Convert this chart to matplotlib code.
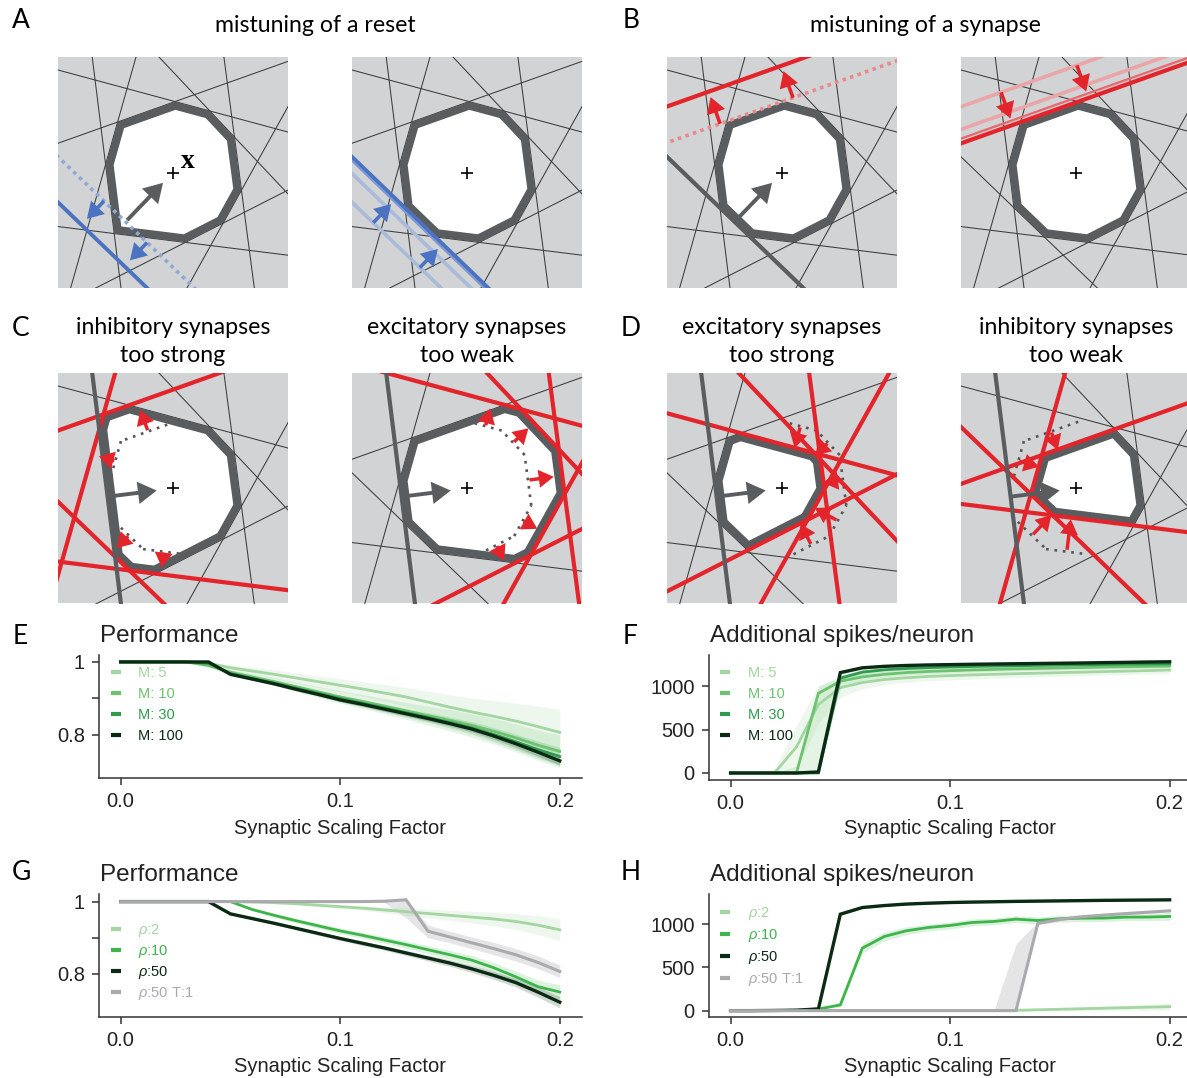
import numpy as np
import matplotlib
matplotlib.use("Agg")
import matplotlib.pyplot as plt
from matplotlib.patches import Rectangle, Polygon, FancyArrowPatch
from matplotlib.lines import Line2D

plt.rcParams['font.family'] = ['Liberation Sans', 'DejaVu Sans']
plt.rcParams['mathtext.fontset'] = 'custom'
plt.rcParams['mathtext.rm'] = 'Liberation Sans'
plt.rcParams['mathtext.it'] = 'Liberation Sans:italic'

W, H = 1187, 1078
fig = plt.figure(figsize=(W / 100, H / 100), dpi=100)

# ======================= data : line panels =======================
scaling = [0.0, 0.01, 0.02, 0.03, 0.04, 0.05, 0.06, 0.07, 0.08, 0.09, 0.1,
           0.11, 0.12, 0.13, 0.14, 0.15, 0.16, 0.17, 0.18, 0.19, 0.2]
xticks = [0.0, 0.1, 0.2]
xticklabels = ['0.0', '0.1', '0.2']
perf_ticks = [0.8, 0.9, 1.0]
perf_ticklabels = ['0.8', '', '1']
spk_ticks = [0, 500, 1000]
spk_ticklabels = ['0', '500', '1000']

# panel E : performance for different M
perf_M5 = [1, 1, 1, 1, 0.996, 0.984, 0.975, 0.966, 0.956, 0.946, 0.936, 0.926, 0.915, 0.904, 0.89, 0.876, 0.863, 0.851, 0.838, 0.823, 0.807]
perf_M10 = [1, 1, 1, 1, 0.99, 0.972, 0.959, 0.946, 0.932, 0.918, 0.904, 0.892, 0.879, 0.866, 0.853, 0.84, 0.826, 0.81, 0.792, 0.772, 0.755]
perf_M30 = [1, 1, 1, 1, 0.996, 0.968, 0.955, 0.942, 0.928, 0.914, 0.9, 0.887, 0.874, 0.861, 0.848, 0.834, 0.819, 0.801, 0.781, 0.76, 0.741]
perf_M100 = [1, 1, 1, 1, 1, 0.966, 0.953, 0.94, 0.925, 0.911, 0.896, 0.884, 0.871, 0.858, 0.845, 0.831, 0.816, 0.797, 0.776, 0.753, 0.729]
sd_perf_M5 = [0, 0, 0, 0.003, 0.006, 0.008, 0.01, 0.012, 0.014, 0.016, 0.018, 0.02, 0.023, 0.026, 0.03, 0.034, 0.038, 0.043, 0.049, 0.056, 0.064]
sd_perf_M10 = [0, 0, 0, 0.002, 0.005, 0.007, 0.009, 0.011, 0.013, 0.015, 0.017, 0.019, 0.021, 0.023, 0.026, 0.029, 0.032, 0.035, 0.038, 0.041, 0.045]
sd_perf_M30 = [0, 0, 0, 0.001, 0.003, 0.004, 0.005, 0.006, 0.007, 0.008, 0.009, 0.01, 0.011, 0.012, 0.013, 0.015, 0.017, 0.019, 0.021, 0.023, 0.025]
sd_perf_M100 = [0, 0, 0, 0, 0, 0.002, 0.003, 0.003, 0.004, 0.004, 0.005, 0.005, 0.006, 0.006, 0.007, 0.007, 0.008, 0.009, 0.01, 0.011, 0.012]

# panel F : additional spikes for different M
spk_M5 = [0, 0, 0, 300, 790, 985, 1045, 1080, 1100, 1115, 1125, 1133, 1140, 1147, 1153, 1159, 1165, 1171, 1177, 1183, 1190]
spk_M10 = [0, 0, 0, 0, 920, 1060, 1110, 1140, 1160, 1173, 1182, 1190, 1197, 1203, 1208, 1213, 1218, 1223, 1227, 1231, 1235]
spk_M30 = [0, 0, 0, 0, 0, 1095, 1165, 1192, 1207, 1217, 1224, 1230, 1235, 1239, 1243, 1247, 1250, 1253, 1256, 1258, 1260]
spk_M100 = [0, 0, 0, 0, 12, 1160, 1215, 1232, 1242, 1248, 1252, 1256, 1259, 1262, 1265, 1268, 1271, 1275, 1278, 1282, 1285]
sd_spk_M5 = [0, 0, 50, 250, 220, 110, 70, 60, 55, 50, 50, 48, 46, 45, 44, 43, 42, 41, 40, 40, 40]
spk_M10_lo = [0, 0, 0, 0, 20, 980, 1070, 1105, 1130, 1145, 1156, 1165, 1173, 1180, 1186, 1191, 1196, 1201, 1205, 1209, 1213]
spk_M10_hi = [0, 0, 0, 80, 1000, 1120, 1150, 1172, 1188, 1200, 1208, 1215, 1221, 1226, 1230, 1235, 1240, 1245, 1249, 1253, 1257]
sd_spk_M30 = [0, 0, 0, 0, 0, 40, 30, 25, 22, 20, 20, 20, 20, 20, 20, 20, 20, 20, 20, 20, 20]
sd_spk_M100 = [0, 0, 0, 0, 5, 20, 15, 12, 10, 10, 10, 10, 10, 10, 10, 10, 10, 10, 10, 10, 10]

# panel G : performance for different rho
perf_r2 = [1, 1, 1, 1, 1, 1, 0.999, 0.997, 0.994, 0.99, 0.986, 0.982, 0.977, 0.972, 0.967, 0.962, 0.957, 0.952, 0.945, 0.935, 0.922]
perf_r10 = [1, 1, 1, 1, 1, 1, 0.978, 0.962, 0.947, 0.933, 0.919, 0.907, 0.894, 0.881, 0.867, 0.853, 0.838, 0.817, 0.792, 0.765, 0.75]
perf_r50 = [1, 1, 1, 1, 1, 0.966, 0.953, 0.94, 0.926, 0.912, 0.898, 0.885, 0.872, 0.858, 0.844, 0.83, 0.814, 0.796, 0.776, 0.75, 0.722]
perf_T1 = [1, 1, 1, 1, 1, 1, 1, 1, 1, 1, 1, 1, 1.001, 1.005, 0.918, 0.902, 0.886, 0.87, 0.853, 0.832, 0.807]
sd_perf_r2 = [0, 0, 0, 0, 0, 0, 0.001, 0.002, 0.003, 0.004, 0.005, 0.006, 0.008, 0.01, 0.012, 0.014, 0.016, 0.019, 0.022, 0.026, 0.03]
sd_perf_r10 = [0, 0, 0, 0, 0, 0, 0.004, 0.005, 0.006, 0.007, 0.008, 0.008, 0.009, 0.01, 0.011, 0.012, 0.013, 0.014, 0.016, 0.018, 0.02]
sd_perf_r50 = [0, 0, 0, 0, 0, 0.002, 0.003, 0.004, 0.004, 0.005, 0.005, 0.006, 0.006, 0.007, 0.008, 0.009, 0.01, 0.011, 0.012, 0.014, 0.016]
perf_T1_lo = [1, 1, 1, 1, 1, 1, 1, 1, 1, 1, 1, 1, 0.998, 0.955, 0.9, 0.886, 0.87, 0.853, 0.836, 0.815, 0.79]
perf_T1_hi = [1, 1, 1, 1, 1, 1, 1, 1, 1, 1, 1, 1, 1.001, 1.005, 0.935, 0.918, 0.902, 0.887, 0.87, 0.85, 0.825]

# panel H : additional spikes for different rho
spk_r2 = [0, 0, 0, 0, 0, 0, 0, 0, 0, 0, 0, 0, 0, 3, 10, 16, 22, 28, 34, 40, 46]
spk_r10 = [0, 0, 2, 5, 19, 66, 722, 857, 923, 961, 985, 1019, 1031, 1058, 1042, 1062, 1069, 1070, 1081, 1082, 1089]
spk_r50 = [0, 0, 2, 5, 20, 1115, 1192, 1215, 1232, 1242, 1250, 1255, 1259, 1263, 1266, 1269, 1272, 1275, 1277, 1279, 1281]
spk_T1 = [0, 0, 0, 0, 0, 0, 0, 0, 0, 0, 0, 0, 0, 0, 1010, 1055, 1085, 1105, 1122, 1138, 1154]
sd_spk_r2 = [0, 0, 0, 0, 0, 0, 0, 0, 0, 0, 0, 0, 0, 5, 10, 15, 20, 25, 30, 35, 40]
sd_spk_r10 = [0, 0, 2, 4, 8, 20, 60, 50, 45, 40, 40, 40, 40, 40, 40, 40, 40, 40, 40, 40, 45]
sd_spk_r50 = [0, 0, 2, 4, 8, 15, 12, 10, 10, 10, 10, 10, 10, 10, 10, 10, 10, 10, 10, 10, 10]
spk_T1_lo = [0, 0, 0, 0, 0, 0, 0, 0, 0, 0, 0, 0, 0, 0, 990, 1040, 1072, 1092, 1110, 1126, 1140]
spk_T1_hi = [0, 0, 0, 0, 0, 0, 0, 0, 0, 0, 0, 0, 0, 770, 1030, 1070, 1098, 1118, 1135, 1150, 1168]

labels_M = ['M: 5', 'M: 10', 'M: 30', 'M: 100']
labels_rho = [r'$\rho$:2', r'$\rho$:10', r'$\rho$:50', r'$\rho$:50 T:1']

# ======================= data : geometric sketches =======================
# each neuron threshold = a line n(angle).x = offset  (box spans -1..1)
base_angle = [109.6, 74.9, 43.3, 7.5, -29.1, -63.0, -97.1, 187.1, 164.2, 226.1]
base_offset = [0.575, 0.600, 0.600, 0.570, 0.595, 0.590, 0.590, 0.573, 0.583, 0.595]

A_left_blue = [0.595, 0.88]           # original (dotted), mistuned (solid)
A_left_arrow_s = [-0.26, 0.26]
A_right_blue = [0.88, 0.70, 0.62, 0.595]
A_right_arrow_s = [-0.285, 0.278]
B_left_red = [0.58, 0.876]
B_left_arrow_s = [0.365, -0.308]
B_right_red = [0.875, 0.689, 0.613, 0.574]
B_right_arrow_s = [0.38, -0.32]

C_left_moved = {0: 0.81, 8: 0.757, 9: 0.776, 6: 0.754}
C_right_moved = {1: 0.787, 2: 0.815, 3: 0.836, 4: 0.765, 5: 0.767}
D_left_moved = {1: 0.371, 2: 0.415, 3: 0.365, 4: 0.326, 5: 0.343}
D_right_moved = {0: 0.373, 8: 0.364, 9: 0.308, 6: 0.257}

# ======================= style =======================
BG = '#d1d3d4'
POLY_C = '#5a5d5f'
THIN_C = '#3c3c3c'
RED = '#e3242b'
BLUE = '#4b73c1'
BOX = 230
INSET = 0.035
TITLE_FONT = ['Lato', 'DejaVu Sans']

c_M = ['#a3d6a0', '#6cc26e', '#2e9b4e', '#0a2a13']
c_rho = ['#a3d6a0', '#3db54a', '#0a2a13', '#a9a9ae']


# ======================= geometry helpers =======================
def nvec(a):
    r = np.deg2rad(a)
    return np.array([np.cos(r), np.sin(r)])


def tvec(a):
    r = np.deg2rad(a)
    return np.array([-np.sin(r), np.cos(r)])


def draw_line(ax, a, d, **kw):
    n, t = nvec(a), tvec(a)
    p = np.array([d * n - 4 * t, d * n + 4 * t])
    ax.plot(p[:, 0], p[:, 1], solid_capstyle='butt', dash_capstyle='butt', **kw)


def cell(angles, offsets, inset=0.0):
    poly = [np.array(v, float) for v in [(-5, -5), (5, -5), (5, 5), (-5, 5)]]
    for a, d in zip(angles, offsets):
        n = nvec(a)
        d = d - inset
        out = []
        for i in range(len(poly)):
            P, Q = poly[i], poly[(i + 1) % len(poly)]
            fp, fq = n @ P - d, n @ Q - d
            if fp <= 0:
                out.append(P)
            if fp * fq < 0:
                out.append(P + fp / (fp - fq) * (Q - P))
        poly = out
    return np.array(poly)


def edge(angles, offsets, i, inset=0.0):
    n, t = nvec(angles[i]), tvec(angles[i])
    d = offsets[i] - inset
    lo, hi = -10.0, 10.0
    for j, (a, dj) in enumerate(zip(angles, offsets)):
        if j == i:
            continue
        nj = nvec(a)
        c = nj @ t
        r = (dj - inset) - d * (nj @ n)
        if abs(c) < 1e-12:
            continue
        if c > 0:
            hi = min(hi, r / c)
        else:
            lo = max(lo, r / c)
    if lo >= hi:
        return None
    return d * n + lo * t, d * n + hi * t


def geo_axes(x_px, y_px):
    ax = fig.add_axes([x_px / W, 1 - (y_px + BOX) / H, BOX / W, BOX / H])
    ax.set_xlim(-1, 1)
    ax.set_ylim(-1, 1)
    ax.set_axis_off()
    ax.add_patch(Rectangle((-1, -1), 2, 2, facecolor=BG, edgecolor='none', zorder=0))
    return ax


def draw_cell(ax, angles, offsets):
    poly = cell(angles, offsets, INSET)
    ax.add_patch(Polygon(poly, closed=True, facecolor='white', edgecolor='none', zorder=2))
    ax.add_patch(Polygon(poly, closed=True, fill=False, edgecolor=POLY_C, lw=5.6,
                         joinstyle='miter', zorder=4))


def arrow(ax, p0, p1, color, lw=2.6, ms=14, z=6):
    ax.add_patch(FancyArrowPatch(tuple(p0), tuple(p1),
                                 arrowstyle='-|>,head_length=0.55,head_width=0.33',
                                 mutation_scale=ms, color=color, lw=lw,
                                 shrinkA=0, shrinkB=0, zorder=z,
                                 joinstyle='miter', capstyle='butt'))


def reset_arrow(ax, i, start_offset, length):
    n = nvec(base_angle[i])
    p0 = start_offset * n
    arrow(ax, p0, p0 - length * n, POLY_C, lw=2.8, ms=17, z=7)


def plus(ax):
    ax.plot([0], [0], marker='+', ms=9, mew=1.2, color='black', zorder=9)


def thin_lines(ax, skip):
    for i in range(10):
        if i in skip:
            continue
        draw_line(ax, base_angle[i], base_offset[i], color=THIN_C, lw=0.75, zorder=1)


# ======================= row 1 =======================
# A left
ax = geo_axes(58, 57.5)
thin_lines(ax, [9])
idx = [i for i in range(10) if i != 9]
draw_cell(ax, [base_angle[i] for i in idx], [base_offset[i] for i in idx])
a = base_angle[9]
n, t = nvec(a), tvec(a)
draw_line(ax, a, A_left_blue[0], color='#8fa8d6', lw=2.6, ls=(0, (1, 1.2)), zorder=5)
draw_line(ax, a, A_left_blue[1], color=BLUE, lw=2.8, zorder=5)
for s in A_left_arrow_s:
    arrow(ax, A_left_blue[0] * n + s * t, (A_left_blue[1] - 0.07) * n + s * t, BLUE)
reset_arrow(ax, 9, A_left_blue[0] - 0.02, 0.45)
plus(ax)
ax.text(0.125, 0.093, 'x', fontsize=20, fontweight='bold', ha='center', va='center',
        family=['Liberation Serif', 'DejaVu Serif'], zorder=9)

# A right
ax = geo_axes(352, 57.5)
thin_lines(ax, [9])
draw_cell(ax, base_angle, base_offset)
blue_styles = [('#aabadb', 2.6), ('#aabadb', 2.6), ('#7f9ad2', 1.6), (BLUE, 2.8)]
for d, (c, lw) in zip(A_right_blue, blue_styles):
    draw_line(ax, a, d, color=c, lw=lw, zorder=5)
for s in A_right_arrow_s:
    arrow(ax, A_right_blue[0] * n + s * t, (A_right_blue[-1] + 0.06) * n + s * t, BLUE)
plus(ax)

# B left
ax = geo_axes(667, 57.5)
thin_lines(ax, [0, 9])
draw_cell(ax, base_angle, base_offset)
a1 = base_angle[0]
n1, t1 = nvec(a1), tvec(a1)
draw_line(ax, a1, B_left_red[0], color='#e98a8e', lw=2.6, ls=(0, (1, 1.2)), zorder=5)
draw_line(ax, a1, B_left_red[1], color=RED, lw=3.0, zorder=5)
for s in B_left_arrow_s:
    arrow(ax, B_left_red[0] * n1 + s * t1, (B_left_red[1] - 0.05) * n1 + s * t1, RED)
draw_line(ax, base_angle[9], base_offset[9], color=POLY_C, lw=3.0, zorder=5)
reset_arrow(ax, 9, base_offset[9] - 0.05, 0.42)
plus(ax)

# B right
ax = geo_axes(961, 57.5)
thin_lines(ax, [0])
draw_cell(ax, base_angle, base_offset)
red_styles = [('#eba5a8', 2.6), ('#eba5a8', 2.6), ('#e8686d', 1.6), (RED, 3.0)]
for d, (c, lw) in zip(B_right_red, red_styles):
    draw_line(ax, a1, d, color=c, lw=lw, zorder=5)
for s in B_right_arrow_s:
    arrow(ax, B_right_red[0] * n1 + s * t1, (B_right_red[-1] + 0.06) * n1 + s * t1, RED)
plus(ax)


# ======================= row 2 =======================
def row2_panel(x_px, moved):
    ax = geo_axes(x_px, 373.5)
    offs = list(base_offset)
    for i, d in moved.items():
        offs[i] = d
    thin_lines(ax, list(moved.keys()) + [7])
    draw_cell(ax, base_angle, offs)
    for i in moved:
        seg = edge(base_angle, base_offset, i, INSET)
        if seg is not None:
            ax.plot([seg[0][0], seg[1][0]], [seg[0][1], seg[1][1]], color='#555555',
                    lw=1.9, ls=(0, (1, 2.2)), zorder=3)
    for i, d in moved.items():
        draw_line(ax, base_angle[i], d, color=RED, lw=3.0, zorder=5)
    draw_line(ax, base_angle[7], base_offset[7], color=POLY_C, lw=3.0, zorder=5)
    for i, d in moved.items():
        seg = edge(base_angle, base_offset, i, INSET)
        if seg is None:
            continue
        mid = (seg[0] + seg[1]) / 2
        n = nvec(base_angle[i])
        delta = d - base_offset[i]
        arrow(ax, mid + 0.05 * delta * n, mid + 0.85 * delta * n, RED, lw=2.5, ms=13)
    reset_arrow(ax, 7, base_offset[7] - 0.01, 0.42)
    plus(ax)


row2_panel(58, C_left_moved)
row2_panel(352, C_right_moved)
row2_panel(667, D_left_moved)
row2_panel(961, D_right_moved)

# ======================= titles for sketches =======================
TS = 16.7
fig.text(315 / W, 1 - 25 / H, 'mistuning of a reset', ha='center', va='center', fontsize=TS, family=TITLE_FONT)
fig.text(925 / W, 1 - 25 / H, 'mistuning of a synapse', ha='center', va='center', fontsize=TS, family=TITLE_FONT)
row2_titles = [(173, 'inhibitory synapses', 'too strong'), (467, 'excitatory synapses', 'too weak'),
               (782, 'excitatory synapses', 'too strong'), (1076, 'inhibitory synapses', 'too weak')]
for xc, l1, l2 in row2_titles:
    fig.text(xc / W, 1 - 328 / H, l1, ha='center', va='center', fontsize=TS, family=TITLE_FONT)
    fig.text(xc / W, 1 - 356 / H, l2, ha='center', va='center', fontsize=TS, family=TITLE_FONT)

letters = [('A', 21, 20), ('B', 631, 20), ('C', 21, 328), ('D', 631, 328),
           ('E', 20, 636), ('F', 630, 636), ('G', 21, 873), ('H', 631, 873)]
for L, xc, yc in letters:
    fig.text(xc / W, 1 - yc / H, L, ha='center', va='center', fontsize=19, family=TITLE_FONT)


# ======================= line panels =======================
def line_axes(left, top, bottom, ylim, yt, ytl, title, xlabel_y):
    width = 483
    ax = fig.add_axes([left / W, 1 - bottom / H, width / W, (bottom - top) / H])
    ax.set_xlim(-0.01, 0.21)
    ax.set_ylim(*ylim)
    for s in ['top', 'right']:
        ax.spines[s].set_visible(False)
    for s in ['left', 'bottom']:
        ax.spines[s].set_color('#333333')
        ax.spines[s].set_linewidth(1.1)
    ax.set_xticks(xticks)
    ax.set_xticklabels(xticklabels)
    ax.set_yticks(yt)
    ax.set_yticklabels(ytl)
    ax.tick_params(axis='both', length=5, width=1.1, color='#333333', labelsize=14.5,
                   labelcolor='#222222')
    ax.tick_params(axis='x', pad=5)
    ax.tick_params(axis='y', pad=5)
    fig.text((left + 1.5) / W, 1 - (top - 19) / H, title, ha='left', va='center', fontsize=17.5, color='#222222')
    fig.text((left + width / 2) / W, 1 - xlabel_y / H, 'Synaptic Scaling Factor', ha='center', va='center',
             fontsize=14.5, color='#222222')
    return ax


def series(ax, y, color, lw, lo=None, hi=None, alpha=0.18):
    if lo is not None:
        ax.fill_between(scaling, lo, hi, color=color, alpha=alpha, lw=0, zorder=1)
    ax.plot(scaling, y, color=color, lw=lw, zorder=3, solid_joinstyle='miter')


def legend(ax, labels, colors, anchor, spacing):
    handles = [Line2D([0], [0], color=c, lw=3, solid_capstyle='butt') for c in colors]
    lg = ax.legend(handles, labels, loc='upper left', bbox_to_anchor=anchor, frameon=False,
                   fontsize=10.5, handlelength=0.7, handletextpad=1.2, labelspacing=spacing,
                   borderaxespad=0, borderpad=0)
    for txt, c in zip(lg.get_texts(), colors):
        txt.set_color(c)


def band(mean, sd, lo_clip=None, hi_clip=None):
    m, s = np.array(mean, float), np.array(sd, float)
    lo, hi = m - s, m + s
    if lo_clip is not None:
        lo = np.maximum(lo, lo_clip)
    if hi_clip is not None:
        hi = np.minimum(hi, np.maximum(m, hi_clip))
    return lo, hi


# E
ax = line_axes(98.7, 655, 778, (0.682, 1.019), perf_ticks, perf_ticklabels, 'Performance', 828)
for y, sd, c, lw in zip([perf_M5, perf_M10, perf_M30, perf_M100],
                        [sd_perf_M5, sd_perf_M10, sd_perf_M30, sd_perf_M100], c_M, [2.0, 2.0, 2.0, 2.4]):
    lo, hi = band(y, sd, hi_clip=1.0)
    series(ax, y, c, lw, lo, hi)
legend(ax, labels_M, c_M, (0.025, 0.91), 0.48)

# F
ax = line_axes(708.6, 655, 780, (-81, 1363), spk_ticks, spk_ticklabels, 'Additional spikes/neuron', 828)
lo, hi = band(spk_M5, sd_spk_M5, lo_clip=0)
series(ax, spk_M5, c_M[0], 2.0, lo, hi)
series(ax, spk_M10, c_M[1], 2.0, spk_M10_lo, spk_M10_hi)
lo, hi = band(spk_M30, sd_spk_M30, lo_clip=0)
series(ax, spk_M30, c_M[2], 2.0, lo, hi)
lo, hi = band(spk_M100, sd_spk_M100, lo_clip=0)
series(ax, spk_M100, c_M[3], 2.4, lo, hi)
legend(ax, labels_M, c_M, (0.024, 0.912), 0.48)

# G
ax = line_axes(98.7, 894, 1017, (0.681, 1.021), perf_ticks, perf_ticklabels, 'Performance', 1066)
for y, sd, c, lw in zip([perf_r2, perf_r10, perf_r50], [sd_perf_r2, sd_perf_r10, sd_perf_r50],
                        c_rho[:3], [2.0, 2.0, 2.4]):
    lo, hi = band(y, sd, hi_clip=1.0)
    series(ax, y, c, lw, lo, hi)
series(ax, perf_T1, c_rho[3], 2.2, perf_T1_lo, perf_T1_hi, alpha=0.3)
legend(ax, labels_rho, c_rho, (0.025, 0.77), 0.26)

# H
ax = line_axes(708.6, 894.3, 1017.3, (-77, 1345), spk_ticks, spk_ticklabels, 'Additional spikes/neuron', 1066)
for y, sd, c, lw in zip([spk_r2, spk_r10, spk_r50], [sd_spk_r2, sd_spk_r10, sd_spk_r50],
                        c_rho[:3], [2.0, 2.0, 2.4]):
    lo, hi = band(y, sd, lo_clip=0)
    series(ax, y, c, lw, lo, hi)
series(ax, spk_T1, c_rho[3], 2.2, spk_T1_lo, spk_T1_hi, alpha=0.3)
legend(ax, labels_rho, c_rho, (0.024, 0.913), 0.34)

fig.savefig('out.png', dpi=100)
